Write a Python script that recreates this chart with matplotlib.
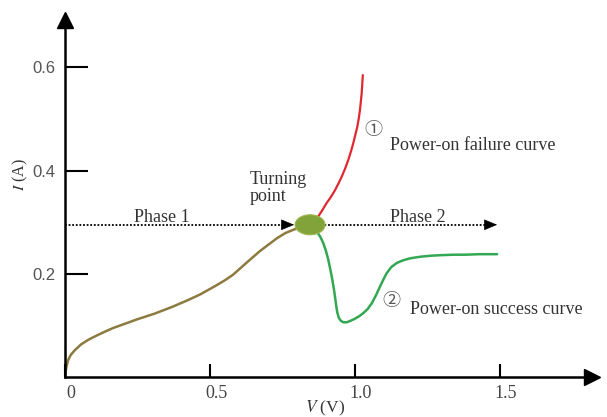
import numpy as np
import matplotlib.pyplot as plt
from matplotlib.patches import Ellipse
from matplotlib.transforms import ScaledTranslation

plt.rcParams['mathtext.fontset'] = 'stix'
SERIF = ['Liberation Serif', 'Noto Sans CJK SC', 'DejaVu Sans']

# phase 1: common rising part up to the turning point
v_rise = [0, 0.002, 0.005, 0.011, 0.020, 0.034, 0.055, 0.080, 0.108, 0.138, 0.166,
          0.196, 0.250, 0.310, 0.370, 0.424, 0.466, 0.517, 0.550, 0.579, 0.625,
          0.672, 0.705, 0.731, 0.760, 0.786, 0.810, 0.828]
i_rise = [0, 0.010, 0.020, 0.033, 0.043, 0.052, 0.063, 0.072, 0.080, 0.088, 0.095,
          0.101, 0.112, 0.123, 0.136, 0.149, 0.160, 0.176, 0.187, 0.198, 0.221,
          0.244, 0.258, 0.269, 0.279, 0.285, 0.290, 0.293]

# curve 1: power-on failure
v_fail = [0.845, 0.858, 0.873, 0.887, 0.902, 0.917, 0.931, 0.943, 0.954, 0.966, 0.977,
          0.986, 0.994, 1.001, 1.008, 1.013, 1.017, 1.020, 1.023, 1.025, 1.027]
i_fail = [0.295, 0.302, 0.311, 0.323, 0.337, 0.349, 0.362, 0.375, 0.388, 0.404, 0.421,
          0.437, 0.453, 0.469, 0.485, 0.501, 0.517, 0.533, 0.550, 0.567, 0.585]

# curve 2: power-on success
v_ok = [0.845, 0.860, 0.873, 0.882, 0.891, 0.900, 0.908, 0.914, 0.920, 0.926, 0.931,
        0.935, 0.939, 0.944, 0.951, 0.960, 0.971, 0.985, 1.000, 1.015, 1.029, 1.044,
        1.058, 1.072, 1.086, 1.098, 1.109, 1.125, 1.144, 1.165, 1.190, 1.224, 1.260,
        1.293, 1.340, 1.379, 1.430, 1.490]
i_ok = [0.295, 0.287, 0.278, 0.270, 0.259, 0.244, 0.227, 0.211, 0.194, 0.175, 0.156,
        0.139, 0.125, 0.115, 0.109, 0.106, 0.106, 0.109, 0.113, 0.118, 0.124, 0.132,
        0.143, 0.158, 0.175, 0.189, 0.201, 0.213, 0.221, 0.226, 0.230, 0.233, 0.235,
        0.236, 0.237, 0.237, 0.238, 0.238]

turn_v, turn_i = 0.845, 0.295
phase1_end = 0.79
phase2_end = 1.49

x_ticks = [0, 0.5, 1.0, 1.5]
x_labels = ['0', '0.5', '1.0', '1.5']
y_ticks = [0.2, 0.4, 0.6]
y_labels = ['0.2', '0.4', '0.6']

fig = plt.figure(figsize=(6.07, 4.17), dpi=100)
ax = fig.add_axes([65 / 607, 40 / 417, 527 / 607, 357 / 417])
ax.set_xlim(0, 527 / 290)
ax.set_ylim(0, 357 / 516)

for s in ['top', 'right']:
    ax.spines[s].set_visible(False)
for s in ['left', 'bottom']:
    ax.spines[s].set_linewidth(1.8)

# axis arrows
ax.plot(1, 0, '>', color='k', ms=11, transform=ax.get_yaxis_transform(), clip_on=False)
ax.plot(0, 1, '^', color='k', ms=11, transform=ax.get_xaxis_transform(), clip_on=False)

ax.set_xticks(x_ticks)
ax.set_xticklabels(x_labels, fontfamily=SERIF, fontsize=13, color='#444444')
ax.set_yticks(y_ticks)
ax.set_yticklabels(y_labels, fontfamily='Liberation Sans', fontsize=12, color='#555555')
ax.tick_params(axis='x', direction='in', length=9.5, width=1.5, pad=6)
ax.tick_params(axis='y', direction='in', length=16.5, width=1.5, pad=7)
off = ScaledTranslation(6 / 100, 0, fig.dpi_scale_trans)
for lab in ax.get_xticklabels():
    lab.set_transform(lab.get_transform() + off)

ax.set_xlabel(r'$V$ (V)', fontfamily=SERIF, fontsize=12.5, color='#333333')
ax.xaxis.set_label_coords(0.493, -0.087)
ax.xaxis.label.set_verticalalignment('center')
ax.set_ylabel(r'$I$ (A)', fontfamily=SERIF, fontsize=11.5, color='#333333')
ax.yaxis.set_label_coords(-45 / 527, 202 / 357)
ax.yaxis.label.set_verticalalignment('center')

# dotted phase arrows
ax.plot([0, phase1_end - 0.03], [turn_i, turn_i], color='k', lw=1.3, ls=(0, (1, 1)))
ax.plot([turn_v, phase2_end - 0.03], [turn_i, turn_i], color='k', lw=1.3, ls=(0, (1, 1)))
for tip in [phase1_end, phase2_end]:
    ax.annotate('', xy=(tip, turn_i), xytext=(tip - 0.04, turn_i),
                arrowprops=dict(arrowstyle='-|>,head_length=0.6,head_width=0.25',
                                color='k', lw=0.5, mutation_scale=14,
                                shrinkA=0, shrinkB=0))

ax.plot(v_rise, i_rise, color='#8c7a3e', lw=1.8, solid_capstyle='round',
        solid_joinstyle='round')
ax.plot(v_fail, i_fail, color='#e0282e', lw=1.6, solid_capstyle='round',
        solid_joinstyle='round')
ax.plot(v_ok, i_ok, color='#33a852', lw=1.8, solid_capstyle='round',
        solid_joinstyle='round')

ax.add_patch(Ellipse((turn_v, turn_i), 30 / 290, 20 / 516, facecolor='#82a23a',
                     edgecolor='#9ab84e', lw=0.8, zorder=5))

txt = dict(fontfamily=SERIF, fontsize=13, color='#333333')
ax.text(0.334, 0.310, 'Phase 1', ha='center', va='center', **txt)
ax.text(1.217, 0.310, 'Phase 2', ha='center', va='center', **txt)
ax.text(0.638, 0.366, 'Turning\npoint', ha='left', va='center', linespacing=1.0, **txt)
ax.text(1.063, 0.477, '①', ha='center', va='center', fontfamily=SERIF,
        fontsize=13, color='#555555')
ax.text(1.121, 0.448, 'Power-on failure curve', ha='left', va='center', **txt)
ax.text(1.126, 0.146, '②', ha='center', va='center', fontfamily=SERIF,
        fontsize=13, color='#555555')
ax.text(1.190, 0.130, 'Power-on success curve', ha='left', va='center', **txt)

fig.savefig('out.png', dpi=100)
